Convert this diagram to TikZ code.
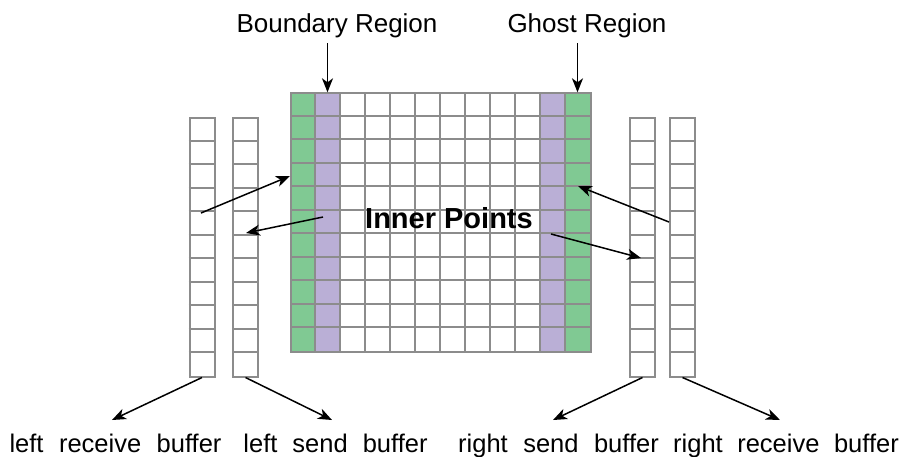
\documentclass[tikz,border=0pt]{standalone}
\usepackage{fontspec}
\setmainfont{Liberation Sans}
\usetikzlibrary{arrows.meta}
\definecolor{gridgray}{RGB}{140,140,140}
\definecolor{ghostgreen}{RGB}{128,201,147}
\definecolor{boundpurple}{RGB}{186,175,214}
\begin{document}
\begin{tikzpicture}[x=1pt,y=-1pt,
  arr/.style={-{Stealth[length=14pt,width=11pt,inset=4pt]},line width=1.5pt,black},
  lbl/.style={font=\fontsize{25.5}{30}\selectfont,inner sep=0pt,anchor=base},
  toplbl/.style={font=\fontsize{26}{30}\selectfont,inner sep=0pt,anchor=base},
  boldlbl/.style={font=\fontsize{29}{33}\selectfont\bfseries,inner sep=0pt},
  cellline/.style={draw=gridgray,line width=2pt},
  bufbox/.style={draw=gridgray,line width=2pt,fill=white,minimum width=25pt,minimum height=258.5pt,inner sep=0pt,anchor=north west},
  gridbox/.style={draw=gridgray,line width=2pt,minimum width=300pt,minimum height=258.5pt,inner sep=0pt,anchor=north west},
]
\useasboundingbox (0,0) rectangle (903,456);

% ---------- main grid ----------
\fill[ghostgreen] (290,92.3) rectangle (315,350.8);
\fill[boundpurple] (315,92.3) rectangle (340,350.8);
\fill[boundpurple] (540,92.3) rectangle (565,350.8);
\fill[ghostgreen] (565,92.3) rectangle (590,350.8);
\foreach \i in {1,...,11} \draw[cellline] (290+25*\i,92.3) -- (290+25*\i,350.8);
\foreach \j in {1,...,10} \draw[cellline] (290,92.3+23.5*\j) -- (590,92.3+23.5*\j);
\node[gridbox] (grid) at (290,92.3) {};

% ---------- buffers ----------
\foreach \bx/\nm in {188.5/lrb, 232/lsb, 629/rsb, 669/rrb}{
  \node[bufbox] (\nm) at (\bx,117) {};
  \foreach \j in {1,...,10} \draw[cellline] (\bx,117+23.5*\j) -- (\bx+25,117+23.5*\j);
}

% ---------- labels ----------
\node[toplbl] (bndlbl) at (337,32) {Boundary Region};
\node[toplbl] (ghostlbl) at (587,32) {Ghost Region};
\node[boldlbl] (inner) at (449,218) {Inner Points};
\node[lbl] (lrblbl) at (115.5,452) {\spaceskip=15.5pt left receive buffer};
\node[lbl] (lsblbl) at (335.5,452) {\spaceskip=15pt left send buffer};
\node[lbl] (rsblbl) at (558.5,452) {\spaceskip=15.5pt right send buffer};
\node[lbl] (rrblbl) at (786,452) {\spaceskip=14.5pt right receive buffer};

% ---------- connector end points ----------
\coordinate (bnd-top) at (327.5,92.3);
\coordinate (ghost-top) at (577.5,92.3);
\coordinate (bndlbl-out) at (327.5,43);
\coordinate (ghostlbl-out) at (577.5,43);
\coordinate (lrb-out) at (201,213);
\coordinate (ghostL-in) at (290,176);
\coordinate (bndL-out) at (323,217);
\coordinate (lsb-in) at (246,233);
\coordinate (rrb-out) at (669,222);
\coordinate (ghostR-in) at (578,186);
\coordinate (bndR-out) at (551,234);
\coordinate (rsb-in) at (641,258);
\coordinate (lrb-tip) at (112,420);
\coordinate (lsb-tip) at (332,420);
\coordinate (rsb-tip) at (553,420);
\coordinate (rrb-tip) at (780,420);

% ---------- connectors ----------
\draw[arr] (bndlbl-out) -- (bnd-top);
\draw[arr] (ghostlbl-out) -- (ghost-top);
\draw[arr] (lrb-out) -- (ghostL-in);
\draw[arr] (bndL-out) -- (lsb-in);
\draw[arr] (rrb-out) -- (ghostR-in);
\draw[arr] (bndR-out) -- (rsb-in);
\draw[arr] (lrb.south) -- (lrb-tip);
\draw[arr] (lsb.south) -- (lsb-tip);
\draw[arr] (rsb.south) -- (rsb-tip);
\draw[arr] (rrb.south) -- (rrb-tip);
\end{tikzpicture}
\end{document}
